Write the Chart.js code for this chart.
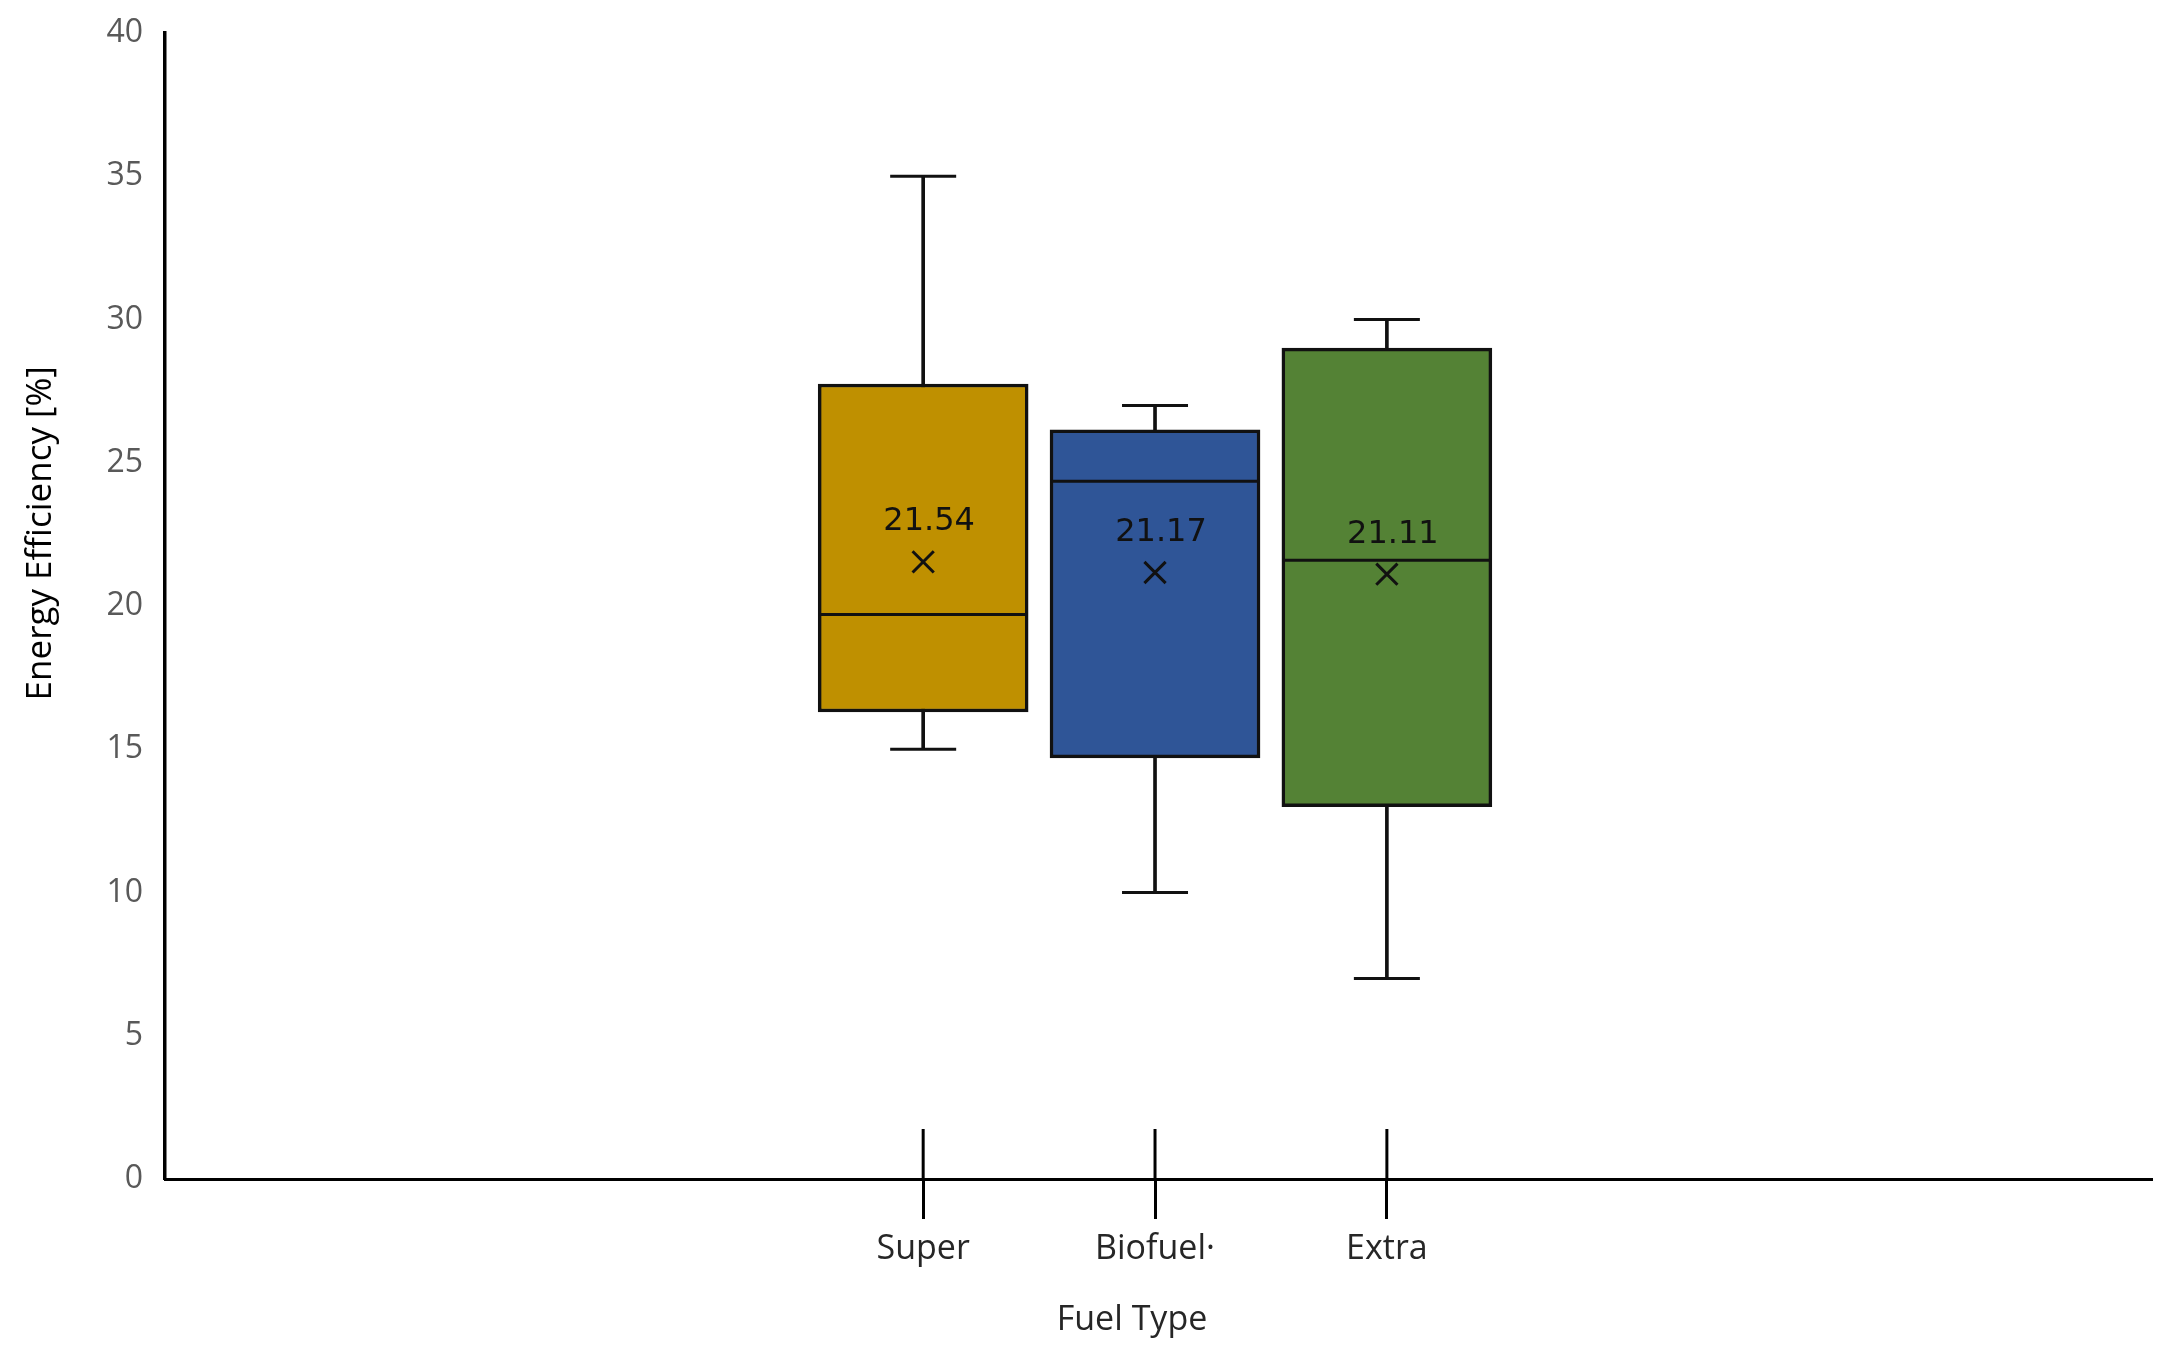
<!DOCTYPE html>
<html>
<head>
<meta charset="utf-8">
<script src="https://cdn.jsdelivr.net/npm/chart.js@4.4.1/dist/chart.umd.min.js"></script>
<style>
  html, body { margin: 0; padding: 0; background: #fff; }
</style>
</head>
<body>
<canvas id="myChart" width="2177" height="1359"></canvas>
<script>
const categories = ['Super', 'Biofuel·', 'Extra'];
const minValues = [15, 10, 7];
const q1Values = [16.3, 14.7, 13];
const medianValues = [19.7, 24.35, 21.6];
const q3Values = [27.75, 26.15, 29];
const maxValues = [35, 27, 30];
const meanValues = [21.54, 21.17, 21.11];
const boxColors = ['#BF9000', '#2F5597', '#548235'];

const idx = categories.map((c, i) => i);

// draws the part of each x tick that sticks up above the axis line
const tickUp = {
    id: 'tickUp',
    afterDraw(chart) {
        const x = chart.scales.x;
        const c = chart.ctx;
        c.save();
        c.strokeStyle = '#000';
        c.lineWidth = 3;
        x.ticks.forEach((t, i) => {
            const px = x.getPixelForTick(i);
            c.beginPath();
            c.moveTo(px, x.top);
            c.lineTo(px, x.top - 50);
            c.stroke();
        });
        c.restore();
    }
};

// mean value text above the x marker
const meanLabels = {
    id: 'meanLabels',
    afterDatasetsDraw(chart) {
        const meta = chart.getDatasetMeta(4);
        const c = chart.ctx;
        c.save();
        c.font = '32px "DejaVu Sans"';
        c.fillStyle = '#111';
        c.textAlign = 'center';
        c.textBaseline = 'middle';
        meta.data.forEach((pt, i) => {
            c.fillText(meanValues[i].toFixed(2), pt.x + 6, pt.y - 40);
        });
        c.restore();
    }
};

function noPad(scale) {
    scale.paddingTop = 0;
    scale.paddingBottom = 0;
    scale.paddingLeft = 0;
    scale.paddingRight = 0;
}

new Chart(document.getElementById('myChart'), {
    type: 'bar',
    data: {
        datasets: [
            {
                label: 'whisker',
                data: idx.map(i => ({ x: i, y: [minValues[i], maxValues[i]] })),
                backgroundColor: '#111',
                barThickness: 3,
                grouped: false,
                order: 5
            },
            {
                label: 'box',
                data: idx.map(i => ({ x: i, y: [q1Values[i], q3Values[i]] })),
                backgroundColor: boxColors,
                borderColor: '#111',
                borderWidth: 3.5,
                borderSkipped: false,
                barThickness: 210,
                grouped: false,
                order: 4
            },
            {
                type: 'scatter',
                label: 'caps',
                data: idx.map(i => ({ x: i, y: minValues[i] })).concat(idx.map(i => ({ x: i, y: maxValues[i] }))),
                pointStyle: 'line',
                radius: 33,
                borderColor: '#111',
                borderWidth: 3,
                order: 3
            },
            {
                type: 'scatter',
                label: 'median',
                data: idx.map(i => ({ x: i, y: medianValues[i] })),
                pointStyle: 'line',
                radius: 104,
                borderColor: '#111',
                borderWidth: 3,
                order: 2
            },
            {
                type: 'scatter',
                label: 'mean',
                data: idx.map(i => ({ x: i, y: meanValues[i] })),
                pointStyle: 'crossRot',
                radius: 15,
                borderColor: '#111',
                borderWidth: 3,
                order: 1
            }
        ]
    },
    options: {
        responsive: false,
        animation: false,
        devicePixelRatio: 1,
        layout: { autoPadding: false, padding: { top: 33, right: 25, left: 0, bottom: 0 } },
        plugins: {
            legend: { display: false },
            tooltip: { enabled: false }
        },
        scales: {
            x: {
                type: 'linear',
                min: -3.27,
                max: 5.3,
                offset: false,
                afterBuildTicks: (axis) => { axis.ticks = idx.map(i => ({ value: i })); },
                afterFit: (scale) => { scale.height = 180; noPad(scale); },
                border: { display: true, color: '#000', width: 3 },
                grid: {
                    offset: false,
                    drawOnChartArea: false,
                    drawTicks: true,
                    tickLength: 40,
                    tickWidth: 3,
                    tickColor: '#000'
                },
                ticks: {
                    callback: (v) => categories[v] ?? '',
                    color: '#262626',
                    font: { family: 'Open Sans', size: 34 },
                    padding: 10,
                    maxRotation: 0
                },
                title: {
                    display: true,
                    text: 'Fuel Type      ',
                    color: '#262626',
                    font: { family: 'Open Sans', size: 34 },
                    padding: { top: 0, bottom: 18 }
                }
            },
            y: {
                min: 0,
                max: 40,
                beginAtZero: true,
                afterFit: (scale) => { scale.width = 165; noPad(scale); },
                border: { display: true, color: '#000', width: 3.5 },
                grid: { display: false, drawTicks: false },
                ticks: {
                    stepSize: 5,
                    color: '#595959',
                    font: { family: 'Open Sans', size: 32 },
                    padding: 22
                },
                title: {
                    display: true,
                    text: '                Energy Efficiency [%]',
                    color: '#000',
                    font: { family: 'Open Sans', size: 35 },
                    padding: { top: 20, bottom: 0 }
                }
            }
        }
    },
    plugins: [tickUp, meanLabels]
});
</script>
</body>
</html>
